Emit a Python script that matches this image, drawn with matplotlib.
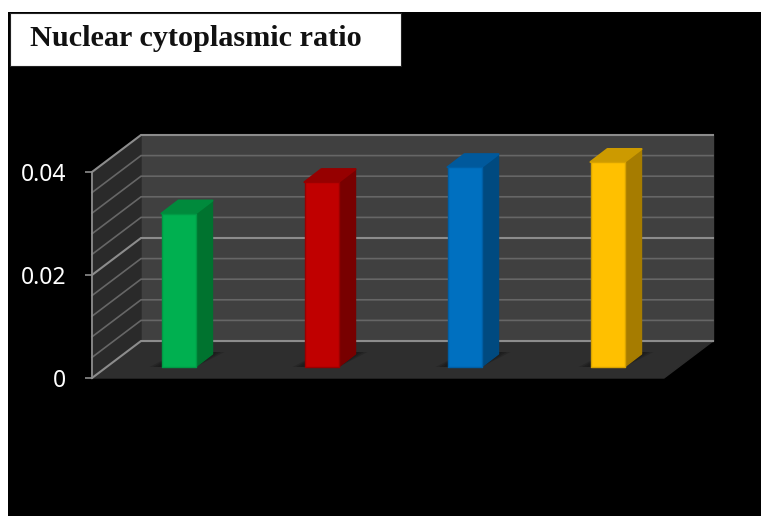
import matplotlib
matplotlib.use("Agg")
import matplotlib.pyplot as plt
from matplotlib.patches import Rectangle

# values for each group
groups = ["A", "B", "C", "D"]
ratios = [0.0298, 0.0359, 0.0388, 0.0398]
front_colors = ["#00b050", "#c00000", "#0070c0", "#ffc000"]
side_colors = ["#00732f", "#780000", "#004a80", "#a67c00"]
top_colors = ["#008a3c", "#960000", "#00599c", "#cc9a00"]
edge_colors = ["#009a45", "#9a0000", "#005fa6", "#d9a300"]

y_ticks = [0, 0.02, 0.04]
y_tick_labels = ["0", "0.02", "0.04"]
grid_levels = [i * 0.004 for i in range(11)]
title = "Nuclear cytoplasmic ratio"

W, H = 761, 516
fig = plt.figure(figsize=(W / 100, H / 100), dpi=100, facecolor="white")

# black panel behind everything, white title box on top of it
fig.add_artist(Rectangle((8 / W, 0), (W - 8) / W, (H - 12) / H, transform=fig.transFigure,
                         facecolor="black", edgecolor="none", zorder=-2))
fig.add_artist(Rectangle((9.5 / W, 1 - 65.5 / H), 391 / W, 52.5 / H, transform=fig.transFigure,
                         facecolor="white", edgecolor="#222222", linewidth=0.8, zorder=-1))
fig.text(30 / W, 1 - 39 / H, title, family="Liberation Serif", fontweight="bold",
         fontsize=21.8, color="#111111", va="center", ha="left")

# axes = the front plane of the 3d box
ax = fig.add_axes([92 / W, 1 - 378 / H, 572 / W, 206 / H])
ax.set_xlim(0, 4)
ax.set_ylim(0, 0.04)
ax.patch.set_visible(False)

# how many data units one pixel is
px_x = 4 / 572
px_y = 0.04 / 206
depth_x = 49 * px_x
depth_y = 37 * px_y

# walls and floor
ax.fill([0, 4, 4 + depth_x, depth_x], [0, 0, depth_y, depth_y], color="#2e2e2e", zorder=1, clip_on=False)
ax.fill([depth_x, 4 + depth_x, 4 + depth_x, depth_x], [depth_y, depth_y, 0.04 + depth_y, 0.04 + depth_y],
        color="#404040", zorder=1, clip_on=False)
ax.fill([0, depth_x, depth_x, 0], [0, depth_y, 0.04 + depth_y, 0.04], color="#2a2a2a", zorder=1, clip_on=False)

# gridlines run along the side wall and then the back wall
for level in grid_levels:
    major = level in (grid_levels[0], grid_levels[5], grid_levels[10])
    col = "#8c8c8c" if major else "#666666"
    lw = 1.5 if major else 1.2
    ax.plot([0, depth_x, 4 + depth_x], [level, level + depth_y, level + depth_y],
            color=col, linewidth=lw, zorder=2, clip_on=False, solid_joinstyle="miter")

# bars sit a little way back from the front edge
bar_w = 34 * 4 / 572
bar_dx = 17 * px_x
bar_dy = 13 * px_y
base_x = 15 * px_x
base_y = 11 * px_y

for i, val in enumerate(ratios):
    left = i + 0.5 - bar_w / 2 + base_x
    right = left + bar_w
    top = base_y + val

    # soft shadow on the floor
    for grow, alpha in [(1.0, 0.35), (0.7, 0.5), (0.4, 0.6)]:
        ax.fill([left - 12 * grow * px_x, right, right + (bar_dx + 12 * px_x) * grow + bar_dx * (1 - grow), left + bar_dx],
                [base_y, base_y, base_y + bar_dy + 2 * px_y, base_y + bar_dy + 2 * px_y],
                color="#1a1a1a", alpha=alpha, linewidth=0, zorder=3, clip_on=False)

    ax.bar(i + 0.5 + base_x, val, width=bar_w, bottom=base_y, color=front_colors[i],
           edgecolor=edge_colors[i], linewidth=1.0, joinstyle="round", zorder=6, clip_on=False)
    ax.fill([right, right + bar_dx, right + bar_dx, right],
            [base_y, base_y + bar_dy, top + bar_dy, top],
            facecolor=side_colors[i], edgecolor=side_colors[i], linewidth=1, joinstyle="round", zorder=5, clip_on=False)
    ax.fill([left, left + bar_dx, right + bar_dx, right],
            [top, top + bar_dy, top + bar_dy, top],
            facecolor=top_colors[i], edgecolor=top_colors[i], linewidth=1.5, joinstyle="round", zorder=5, clip_on=False)

# left axis with its ticks, x axis has nothing drawn
for name in ["top", "right", "bottom"]:
    ax.spines[name].set_visible(False)
ax.spines["left"].set_color("#8c8c8c")
ax.spines["left"].set_linewidth(1.3)
ax.spines["left"].set_zorder(4)
ax.set_xticks([])
ax.set_yticks(y_ticks)
ax.set_yticklabels(y_tick_labels, family="Noto Sans", fontsize=16.5, color="white")
ax.tick_params(axis="y", length=5, width=1.2, color="#8c8c8c", pad=13.5)

plt.savefig("out.png", dpi=100)
